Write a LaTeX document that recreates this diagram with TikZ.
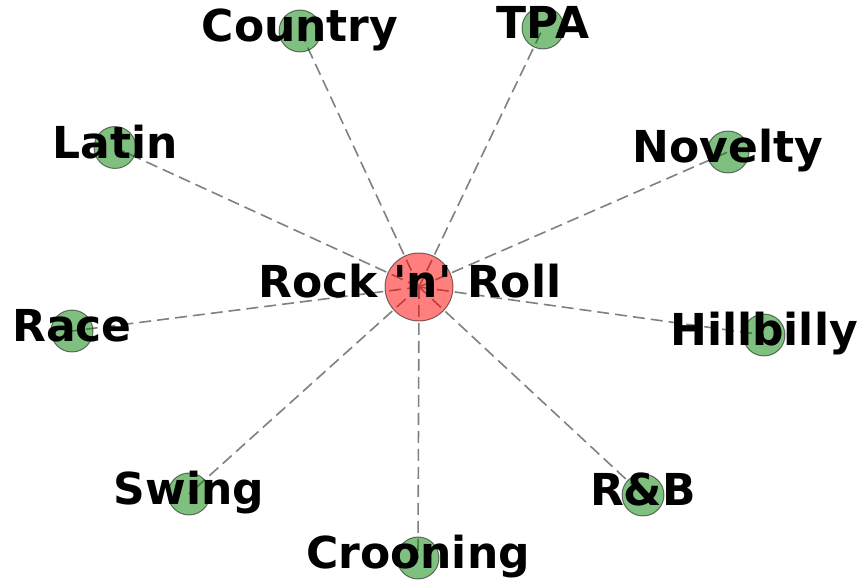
\documentclass[tikz,border=0pt]{standalone}
\usepackage{fontspec}
\newfontfamily\genrefont{DejaVu Sans}
\usetikzlibrary{backgrounds}

\tikzset{
  genre/.style={circle, draw=black, fill=green!50!black, opacity=0.5,
    minimum size=42pt, inner sep=0pt, line width=1pt},
  hub/.style={genre, fill=red, minimum size=68pt},
  link/.style={draw=gray, line width=1.6pt, dash pattern=on 12pt off 6pt},
  tag/.style={anchor=base, yshift=-11pt, inner sep=0pt,
    font=\genrefont\bfseries\fontsize{44}{52}\selectfont}
}

\begin{document}
\begin{tikzpicture}[x=1pt, y=1pt]
  \useasboundingbox (0,0) rectangle (860,581);

  % genres
  \node[hub]   (rock)      at (419,294)   {};
  \node[genre] (country)   at (300,550)   {};
  \node[genre] (tpa)       at (543,553)   {};
  \node[genre] (latin)     at (115,433.5) {};
  \node[genre] (novelty)   at (728,429)   {};
  \node[genre] (race)      at (72,250)    {};
  \node[genre] (hillbilly) at (764,246)   {};
  \node[genre] (swing)     at (189,87)    {};
  \node[genre] (rnb)       at (643,86)    {};
  \node[genre] (crooning)  at (418,23)    {};

  % links to the hub, kept behind the circles
  \begin{scope}[on background layer]
    \draw[link] (rock.center) -- (country.center);
    \draw[link] (rock.center) -- (tpa.center);
    \draw[link] (rock.center) -- (latin.center);
    \draw[link] (rock.center) -- (novelty.center);
    \draw[link] (rock.center) -- (race.center);
    \draw[link] (rock.center) -- (hillbilly.center);
    \draw[link] (rock.center) -- (swing.center);
    \draw[link] (rock.center) -- (rnb.center);
    \draw[link] (rock.center) -- (crooning.center);
  \end{scope}

  % names on top
  \node[tag, xshift=-9pt] (rock-name) at (rock)      {Rock 'n' Roll};
  \node[tag] (country-name)   at (country)   {Country};
  \node[tag] (tpa-name)       at (tpa)       {TPA};
  \node[tag] (latin-name)     at (latin)     {Latin};
  \node[tag] (novelty-name)   at (novelty)   {Novelty};
  \node[tag] (race-name)      at (race)      {Race};
  \node[tag] (hillbilly-name) at (hillbilly) {Hillbilly};
  \node[tag] (swing-name)     at (swing)     {Swing};
  \node[tag] (rnb-name)       at (rnb)       {R\&B};
  \node[tag] (crooning-name)  at (crooning)  {Crooning};
\end{tikzpicture}
\end{document}
